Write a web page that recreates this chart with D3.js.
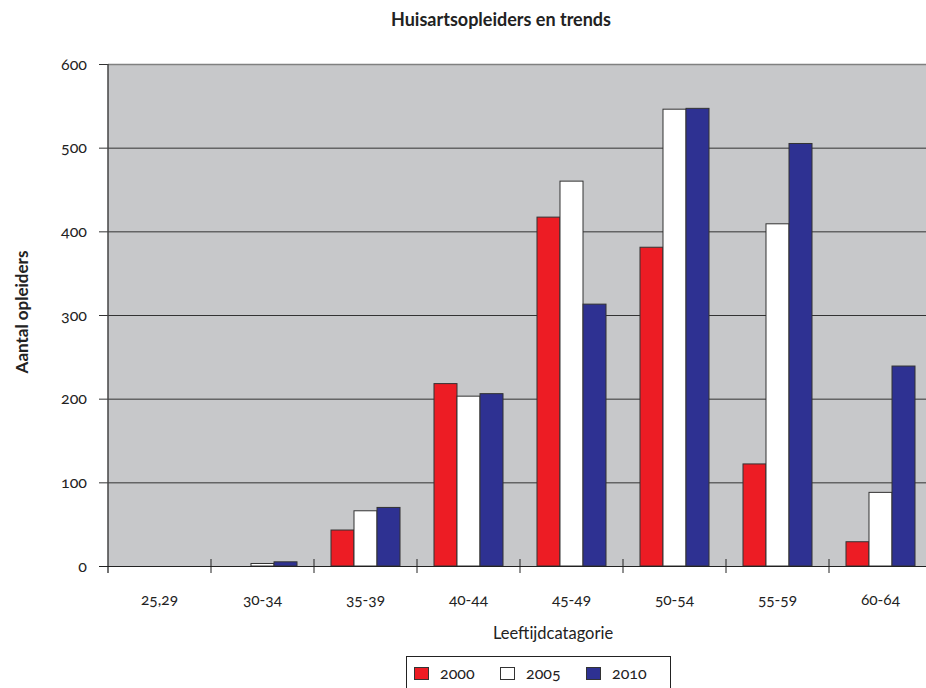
<!DOCTYPE html>
<html><head><meta charset="utf-8">
<script src="https://cdn.jsdelivr.net/npm/d3@7"></script>
<style>
body{margin:0;background:#fff;}
svg text{font-family:Lato,"Open Sans",sans-serif;fill:#222;}
.num{font-variant-numeric:oldstyle-nums;font-feature-settings:"onum" 1;}
</style></head>
<body><svg id="c" width="926" height="688"></svg>
<script>
const categories = ["25,29","30-34","35-39","40-44","45-49","50-54","55-59","60-64"];
const years = ["2000","2005","2010"];
const values2000 = [0, 0, 43, 218, 417, 381, 122, 29];
const values2005 = [0, 3, 66, 203, 460, 546, 409, 88];
const values2010 = [0, 5, 70, 206, 313, 547, 505, 239];
const yTicks = [0,100,200,300,400,500,600];
const colors = ["#ED1C24","#FFFFFF","#2E3192"];

const series = [values2000, values2005, values2010];
const svg = d3.select("#c");
const L=108, R=932, T=64, B=566;

const x = d3.scaleBand().domain(categories).range([L,R]).paddingInner(0.33).paddingOuter(0.165);
const step = (R-L)/categories.length;
const xs = d3.scaleBand().domain(years).range([0, x.bandwidth()]);
const y = d3.scaleLinear().domain([0,600]).range([B,T]);

// plot background
svg.append("rect").attr("x",L).attr("y",T).attr("width",R-L).attr("height",B-T).attr("fill","#C7C8CA");

// grid
svg.append("g").selectAll("line").data(yTicks.filter(d=>d>0)).join("line")
  .attr("x1",L).attr("x2",R).attr("y1",d=>y(d)+0.5).attr("y2",d=>y(d)+0.5)
  .attr("stroke",d=>d===600?"#808080":"#333").attr("stroke-width",d=>d===600?1.5:1);

// bars
const g = svg.append("g");
categories.forEach((c,i)=>{
  series.forEach((s,j)=>{
    if(s[i]<=0) return;
    g.append("rect")
      .attr("x",x(c)+xs(years[j])).attr("y",y(s[i]))
      .attr("width",xs.bandwidth()).attr("height",B-y(s[i]))
      .attr("fill",colors[j]).attr("stroke","#333").attr("stroke-width",1);
  });
});

// y axis
const yAxis = d3.axisLeft(y).tickValues(yTicks).tickSize(9).tickPadding(12).tickFormat(d3.format("d"));
const ya = svg.append("g").attr("transform",`translate(${L},0)`).call(yAxis);
ya.select(".domain").remove();
ya.selectAll(".tick line").attr("stroke","#333");
ya.selectAll("text").attr("class","num").attr("font-size",16).attr("fill","#222");
svg.append("line").attr("x1",L).attr("x2",L).attr("y1",T).attr("y2",573).attr("stroke","#444").attr("stroke-width",1.5);

// x axis baseline
svg.append("line").attr("x1",99).attr("x2",R).attr("y1",B+0.5).attr("y2",B+0.5).attr("stroke","#222").attr("stroke-width",1.2);
// category boundary ticks
const bounds = categories.slice(1).map((c,i)=>L+step*(i+1));
svg.append("g").selectAll("line").data(bounds).join("line")
  .attr("x1",d=>d).attr("x2",d=>d).attr("y1",B-7).attr("y2",B+7).attr("stroke","#222");
// category labels
svg.append("g").selectAll("text").data(categories).join("text")
  .attr("class","num")
  .attr("x",d=>x(d)+x.bandwidth()/2).attr("y",605)
  .attr("text-anchor","middle").attr("font-size",15.5).text(d=>d);

// titles
svg.append("text").attr("x",501).attr("y",26).attr("text-anchor","middle")
  .attr("font-size",18).attr("font-weight","bold").text("Huisartsopleiders en trends");
svg.append("text").attr("transform","translate(28,312) rotate(-90)").attr("text-anchor","middle")
  .attr("font-size",17).attr("font-weight","bold").text("Aantal opleiders");
svg.append("text").attr("x",553).attr("y",639).attr("text-anchor","middle")
  .attr("font-size",16.5).text("Leeftijdcatagorie");

// legend
svg.append("rect").attr("x",406.5).attr("y",656.5).attr("width",264).attr("height",32).attr("fill","#fff").attr("stroke","#222");
const lx=[414,500,586];
years.forEach((yr,j)=>{
  svg.append("rect").attr("x",lx[j]+0.5).attr("y",667.5).attr("width",14).attr("height",12)
    .attr("fill",colors[j]).attr("stroke","#333");
  svg.append("text").attr("class","num").attr("x",lx[j]+26).attr("y",679).attr("font-size",16).text(yr);
});
</script></body></html>
